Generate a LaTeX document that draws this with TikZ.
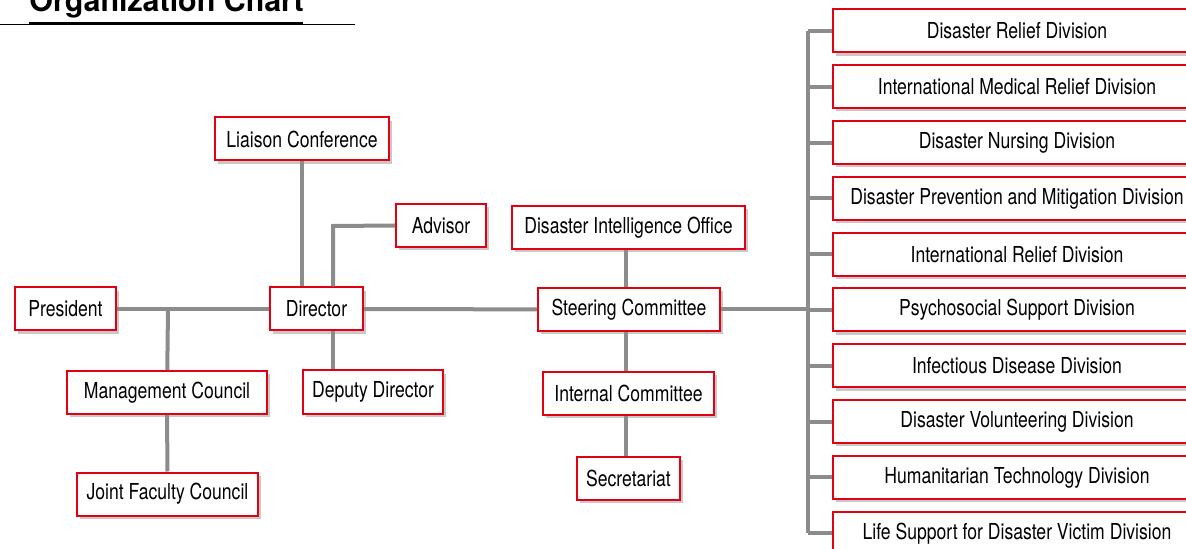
\documentclass[tikz,border=0pt]{standalone}
\usepackage{fontspec}
\setmainfont{TeX Gyre Heros}
\newfontfamily\narrowfont[FakeStretch=0.8]{TeX Gyre Heros}
\usetikzlibrary{shadows}
\definecolor{boxred}{RGB}{228,0,18}
\definecolor{linegray}{RGB}{140,140,140}
\definecolor{shadowgray}{RGB}{200,200,200}
\tikzset{
  unit/.style={draw=boxred,line width=1pt,fill=white,minimum height=21.5pt,inner sep=0pt,
    font=\narrowfont\fontsize{11}{13}\selectfont,
    drop shadow={shadow xshift=1.6pt,shadow yshift=-1.6pt,fill=shadowgray,opacity=1}},
  link/.style={draw=linegray,line width=2pt}
}
\begin{document}
\begin{tikzpicture}[x=0.5pt,y=-0.5pt]
\useasboundingbox (0,0) rectangle (1186,549);
% title
\node[anchor=base west,inner sep=0pt,font=\bfseries\fontsize{15.2}{17}\selectfont] (title) at (29,12) {Organization Chart};
\draw[line width=0.5pt] (0,25) -- (355,25);
\draw[line width=1.5pt] (29,23.5) -- (303,23.5);
% left part
\node[unit,minimum width=50.5pt] (pres) at (65.5,309) {President};
\node[unit,minimum width=46.5pt] (dir) at (316.5,309) {Director};
\node[unit,minimum width=100pt] (mgmt) at (167,392.5) {Management Council};
\node[unit,minimum width=90.5pt] (jfc) at (167.5,494) {Joint Faculty Council};
\node[unit,minimum width=70pt] (dep) at (373,392) {Deputy Director};
\node[unit,minimum width=87pt] (liai) at (302,139) {Liaison Conference};
\node[unit,minimum width=45pt] (adv) at (441,225.5) {Advisor};
% middle part
\node[unit,minimum width=116.5pt] (dio) at (628.5,227.5) {Disaster Intelligence Office};
\node[unit,minimum width=91pt] (steer) at (629,309.5) {Steering Committee};
\node[unit,minimum width=85.5pt] (intc) at (628.5,393.5) {Internal Committee};
\node[unit,minimum width=51.5pt] (secr) at (628.5,478.5) {Secretariat};
% divisions
\foreach \name [count=\i from 0] in {Disaster Relief Division,International Medical Relief Division,Disaster Nursing Division,Disaster Prevention and Mitigation Division,International Relief Division,Psychosocial Support Division,Infectious Disease Division,Disaster Volunteering Division,Humanitarian Technology Division,Life Support for Disaster Victim Division}
  \node[unit,minimum width=184pt] (div\i) at (1017,31+55.8*\i) {\name};
\coordinate (busT) at (808,31);
\coordinate (busB) at (808,533.2);
\coordinate (j1) at (168,309);
\coordinate (j2) at (333,226);
\coordinate (vx) at (626,0);
% connectors
\draw[link] (pres) -- (dir);
\draw[link] (j1) -- (mgmt);
\draw[link] (mgmt) -- (jfc);
\draw[link] (liai.south) -- (liai.south |- dir.north);
\draw[link] (adv.west) -- (j2) -- (j2 |- dir.north);
\draw[link] (j2 |- dir.south) -- (j2 |- dep.north);
\draw[link] (dir) -- (steer);
\draw[link] (dio.south -| vx) -- (steer.north -| vx);
\draw[link] (steer.south -| vx) -- (intc.north -| vx);
\draw[link] (intc.south -| vx) -- (secr.north -| vx);
\draw[link] (steer.east) -- (steer.east -| busT);
\draw[link] (busT) -- (busB);
\foreach \i in {0,...,9}
  \draw[link] (div\i.west -| busT) -- (div\i.west);
\end{tikzpicture}
\end{document}
